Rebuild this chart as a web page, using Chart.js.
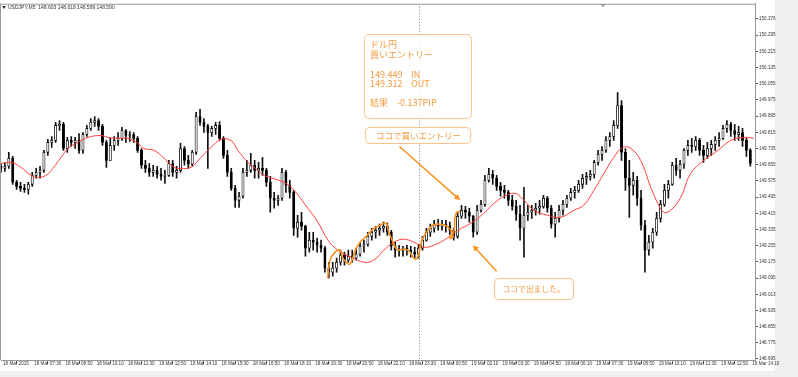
<!DOCTYPE html>
<html><head><meta charset="utf-8">
<script src="https://cdn.jsdelivr.net/npm/chart.js@4.4.1/dist/chart.umd.min.js"></script>
<style>html,body{margin:0;padding:0;background:#f0f0f0;overflow:hidden}#wrap{position:relative;width:798px;height:377px}</style>
</head><body><div id="wrap"><canvas id="c"></canvas></div>
<script>
// ---- data (USDJPY, 10-minute candles) ----
const timeLabels = ["18 Mar 2015","18 Mar 07:30","18 Mar 08:50","18 Mar 10:10","18 Mar 11:30","18 Mar 12:50","18 Mar 14:10","18 Mar 15:30","18 Mar 16:50","18 Mar 18:10","18 Mar 19:30","18 Mar 20:50","18 Mar 22:10","18 Mar 23:30","19 Mar 00:50","19 Mar 02:10","19 Mar 03:30","19 Mar 04:50","19 Mar 06:10","19 Mar 07:30","19 Mar 08:50","19 Mar 10:10","19 Mar 11:30","19 Mar 12:50","19 Mar 14:10"];
const candlesPerLabel = 8;
const separatorIndex = 107; // 19 Mar 00:00
const yTicks = [150.376,150.295,150.215,150.135,150.055,149.975,149.895,149.815,149.735,149.655,149.575,149.495,149.415,149.335,149.255,149.175,149.095,149.013,148.935,148.855,148.775,148.695];

const closes = [149.637,149.647,149.686,149.568,149.548,149.538,149.533,149.558,149.602,149.617,
149.627,149.716,149.765,149.775,149.849,149.854,149.735,149.775,149.765,149.775,
149.726,149.804,149.834,149.864,149.873,149.844,149.765,149.676,149.750,149.775,
149.785,149.824,149.799,149.804,149.785,149.726,149.652,149.637,149.617,149.627,
149.607,149.597,149.602,149.661,149.617,149.627,149.735,149.676,149.657,149.716,
149.893,149.864,149.844,149.814,149.834,149.849,149.785,149.701,149.617,149.538,
149.479,149.499,149.617,149.627,149.652,149.627,149.637,149.627,149.568,149.489,
149.479,149.489,149.617,149.553,149.518,149.341,149.371,149.351,149.242,149.282,
149.272,149.257,149.242,149.144,149.124,149.144,149.173,149.208,149.183,149.203,
149.193,149.213,149.252,149.262,149.301,149.321,149.331,149.341,149.351,149.321,
149.252,149.233,149.233,149.242,149.233,149.223,149.213,149.242,149.282,149.321,
149.341,149.361,149.351,149.361,149.351,149.331,149.301,149.400,149.430,149.420,
149.400,149.321,149.430,149.459,149.578,149.607,149.588,149.548,149.528,149.518,
149.479,149.449,149.410,149.341,149.405,149.420,149.430,149.440,149.449,149.489,
149.440,149.361,149.390,149.430,149.459,149.489,149.518,149.528,149.558,149.588,
149.597,149.607,149.666,149.706,149.726,149.775,149.794,149.849,149.947,149.716,
149.588,149.553,149.578,149.489,149.356,149.233,149.272,149.321,149.390,149.459,
149.528,149.558,149.652,149.627,149.657,149.726,149.750,149.745,149.775,149.726,
149.701,149.735,149.755,149.775,149.785,149.834,149.854,149.824,149.804,149.814,
149.775,149.726,149.661];
const opens = [149.647,149.637,149.647,149.686,149.568,149.548,149.538,149.533,149.558,149.602,
149.617,149.627,149.716,149.765,149.775,149.849,149.854,149.735,149.775,149.765,
149.775,149.726,149.804,149.834,149.864,149.873,149.844,149.765,149.676,149.750,
149.775,149.785,149.824,149.799,149.804,149.785,149.726,149.652,149.637,149.617,
149.627,149.607,149.597,149.602,149.661,149.617,149.627,149.735,149.676,149.657,
149.716,149.893,149.864,149.844,149.814,149.834,149.849,149.785,149.701,149.617,
149.538,149.479,149.499,149.617,149.627,149.652,149.627,149.637,149.627,149.568,
149.489,149.479,149.489,149.617,149.553,149.518,149.341,149.371,149.351,149.242,
149.282,149.272,149.257,149.242,149.144,149.124,149.144,149.173,149.208,149.183,
149.203,149.193,149.213,149.252,149.262,149.301,149.321,149.331,149.341,149.351,
149.321,149.252,149.233,149.233,149.242,149.233,149.223,149.213,149.242,149.282,
149.321,149.341,149.361,149.351,149.361,149.351,149.331,149.301,149.400,149.430,
149.420,149.400,149.321,149.430,149.459,149.578,149.607,149.588,149.548,149.528,
149.518,149.479,149.449,149.410,149.341,149.405,149.420,149.430,149.440,149.449,
149.489,149.440,149.361,149.390,149.430,149.459,149.489,149.518,149.528,149.558,
149.588,149.597,149.607,149.666,149.706,149.726,149.775,149.794,149.849,149.947,
149.716,149.588,149.553,149.578,149.489,149.356,149.233,149.272,149.321,149.390,
149.459,149.528,149.558,149.652,149.627,149.657,149.726,149.750,149.745,149.775,
149.726,149.701,149.735,149.755,149.775,149.785,149.834,149.854,149.824,149.804,
149.814,149.775,149.726];
const highs = [149.661,149.666,149.716,149.696,149.578,149.568,149.558,149.568,149.617,149.637,
149.647,149.726,149.780,149.794,149.864,149.873,149.864,149.790,149.794,149.790,
149.809,149.814,149.849,149.883,149.893,149.883,149.854,149.775,149.785,149.794,
149.814,149.839,149.829,149.819,149.814,149.794,149.735,149.676,149.661,149.652,
149.647,149.637,149.627,149.676,149.676,149.647,149.760,149.745,149.701,149.726,
149.913,149.928,149.883,149.854,149.844,149.864,149.868,149.794,149.726,149.637,
149.553,149.518,149.637,149.676,149.711,149.676,149.666,149.691,149.637,149.597,
149.518,149.504,149.637,149.627,149.578,149.528,149.405,149.420,149.356,149.321,
149.321,149.292,149.282,149.252,149.173,149.173,149.193,149.233,149.223,149.233,
149.233,149.242,149.272,149.282,149.321,149.341,149.351,149.361,149.371,149.366,
149.331,149.272,149.257,149.252,149.257,149.252,149.247,149.262,149.301,149.341,
149.361,149.380,149.385,149.380,149.380,149.371,149.341,149.420,149.454,149.449,
149.440,149.405,149.454,149.479,149.602,149.637,149.627,149.602,149.568,149.553,
149.528,149.504,149.479,149.454,149.543,149.454,149.454,149.464,149.479,149.504,
149.499,149.454,149.420,149.454,149.479,149.504,149.538,149.548,149.578,149.607,
149.617,149.627,149.676,149.726,149.745,149.794,149.814,149.873,150.011,149.972,
149.735,149.676,149.617,149.597,149.528,149.380,149.306,149.341,149.420,149.479,
149.558,149.578,149.666,149.686,149.676,149.735,149.775,149.785,149.794,149.785,
149.750,149.765,149.775,149.794,149.814,149.849,149.873,149.864,149.854,149.844,
149.834,149.785,149.735];
const lows = [149.617,149.622,149.637,149.558,149.533,149.523,149.518,149.509,149.548,149.588,
149.588,149.617,149.701,149.740,149.765,149.824,149.726,149.716,149.745,149.735,
149.711,149.711,149.794,149.824,149.844,149.824,149.750,149.642,149.676,149.726,
149.750,149.775,149.765,149.770,149.765,149.716,149.637,149.617,149.597,149.597,
149.588,149.578,149.563,149.597,149.597,149.588,149.617,149.652,149.637,149.647,
149.706,149.849,149.814,149.637,149.794,149.804,149.775,149.686,149.597,149.528,
149.444,149.444,149.489,149.597,149.617,149.588,149.588,149.602,149.548,149.420,
149.440,149.454,149.479,149.518,149.489,149.306,149.297,149.331,149.203,149.223,
149.233,149.223,149.223,149.124,149.095,149.104,149.124,149.159,149.159,149.173,
149.173,149.183,149.203,149.223,149.252,149.282,149.292,149.306,149.321,149.306,
149.233,149.198,149.203,149.203,149.208,149.198,149.193,149.193,149.233,149.277,
149.301,149.321,149.331,149.331,149.321,149.311,149.282,149.292,149.390,149.390,
149.371,149.297,149.311,149.420,149.449,149.568,149.558,149.528,149.499,149.489,
149.454,149.430,149.380,149.282,149.198,149.380,149.390,149.405,149.410,149.440,
149.420,149.341,149.297,149.371,149.405,149.444,149.479,149.489,149.518,149.538,
149.558,149.578,149.588,149.652,149.676,149.716,149.745,149.775,149.834,149.676,
149.528,149.395,149.504,149.454,149.331,149.124,149.208,149.242,149.306,149.371,
149.449,149.489,149.553,149.602,149.588,149.637,149.701,149.716,149.726,149.701,
149.666,149.686,149.701,149.726,149.745,149.780,149.814,149.794,149.775,149.775,
149.745,149.696,149.647];

// moving average (red line), sampled along the curve
const maIdx = [0,2.6,5.1,7.7,9.5,11.5,13.3,15.4,17.2,19.7,22.3,25.6,27.4,30.0,32.5,35.1,36.6,39.2,41.8,44.3,46.1,48.7,51.2,53.8,56.4,58.9,60.7,63.3,65.8,67.4,72.5,75.1,78.6,81.2,83.8,86.3,89.7,93.0,95.5,98.1,100.7,103.2,105.8,108.4,110.9,113.5,117.1,120.4,123.7,127.3,131.4,134.0,136.5,140.1,143.4,146.8,149.3,151.9,154.5,157.0,159.3,161.4,163.9,166.5,168.3,169.8,171.6,174.2,176.7,180.1,183.7,187.0,190.3,192.9];
const maVal = [149.661,149.666,149.642,149.602,149.592,149.602,149.637,149.691,149.735,149.765,149.790,149.799,149.790,149.785,149.785,149.760,149.735,149.726,149.686,149.642,149.637,149.642,149.691,149.740,149.780,149.775,149.726,149.666,149.627,149.602,149.568,149.528,149.440,149.371,149.282,149.233,149.198,149.173,149.183,149.233,149.272,149.287,149.272,149.247,149.257,149.282,149.331,149.366,149.415,149.479,149.514,149.479,149.430,149.405,149.395,149.430,149.454,149.528,149.612,149.691,149.740,149.735,149.676,149.543,149.464,149.420,149.430,149.494,149.612,149.676,149.726,149.775,149.790,149.785];

// orange hand-drawn trace
const drawIdx = [83.7,84.3,85.6,86.9,87.6,88.7,89.4,90.2,91.0,92.0,93.8,95.3,97.1,98.7,99.2,100.2,101.0,101.7,103.0,104.3,105.3,106.1,106.9,107.4,108.1,109.4,110.7,112.5,114.3,115.6,115.8,115.0,116.1,116.3,116.8,117.6];
const drawVal = [149.095,149.183,149.223,149.233,149.193,149.168,149.163,149.198,149.242,149.272,149.306,149.336,149.356,149.366,149.331,149.282,149.247,149.233,149.237,149.233,149.208,149.188,149.203,149.247,149.292,149.331,149.356,149.361,149.351,149.321,149.297,149.292,149.331,149.395,149.420,149.425];

// arrows (from -> to) in data coordinates [index, price]
const arrowFrom = [[102.1, 149.745], [127.0, 149.129]];
const arrowTo   = [[117.7, 149.479], [120.9, 149.257]];

const headerText = "USDJPY,M5  148.603 148.618 148.589 148.590";

// ---- build ----
const idx = closes.map((_, i) => i);
const wickData = idx.map(i => ({x: i, y: [lows[i], highs[i]]}));
const bodyData = idx.map(i => ({x: i, y: [opens[i], closes[i]]}));
const bodyFill = idx.map(i => closes[i] >= opens[i] ? '#ffffff' : '#000000');

const ORANGE_TXT = '#f39a3c';
const ORANGE_LINE = '#f7931e';
const BOX_BORDER = '#f8c48c';
const JP = '"Noto Sans CJK JP", "Noto Sans", sans-serif';

function rr(ctx, x, y, w, h, r) {
  ctx.beginPath();
  ctx.moveTo(x + r, y); ctx.lineTo(x + w - r, y); ctx.quadraticCurveTo(x + w, y, x + w, y + r);
  ctx.lineTo(x + w, y + h - r); ctx.quadraticCurveTo(x + w, y + h, x + w - r, y + h);
  ctx.lineTo(x + r, y + h); ctx.quadraticCurveTo(x, y + h, x, y + h - r);
  ctx.lineTo(x, y + r); ctx.quadraticCurveTo(x, y, x + r, y); ctx.closePath();
}

const decor = {
  id: 'decor',
  beforeDraw(chart) {
    const c = chart.ctx;
    c.save();
    c.fillStyle = '#f0f0f0'; c.fillRect(0, 0, chart.width, chart.height);
    c.fillStyle = '#ffffff'; c.fillRect(0, 0, 775, 371);
    c.restore();
  },
  beforeDatasetsDraw(chart) {
    const {ctx, chartArea: a, scales: {x}} = chart;
    const sx = Math.round(x.getPixelForValue(separatorIndex)) + 0.5;
    ctx.save();
    ctx.strokeStyle = '#808080'; ctx.lineWidth = 1; ctx.setLineDash([1, 2]);
    ctx.beginPath(); ctx.moveTo(sx, a.top); ctx.lineTo(sx, a.bottom); ctx.stroke();
    ctx.restore();
  },
  afterDraw(chart) {
    const {ctx, chartArea: a, scales: {x, y}} = chart;
    ctx.save();
    // frame
    ctx.strokeStyle = '#9a9a9a'; ctx.lineWidth = 1;
    ctx.beginPath(); ctx.moveTo(0, a.top + 0.5); ctx.lineTo(a.right, a.top + 0.5);
    ctx.moveTo(0.5, a.top); ctx.lineTo(0.5, a.bottom); ctx.stroke();
    // header
    ctx.fillStyle = '#333';
    ctx.beginPath(); ctx.moveTo(2, 6); ctx.lineTo(6, 6); ctx.lineTo(4, 9); ctx.closePath(); ctx.fill();
    ctx.font = '5px "Liberation Sans", sans-serif'; ctx.textBaseline = 'middle'; ctx.textAlign = 'left';
    ctx.fillText(headerText, 8, 7.5);
    // shift marker
    ctx.fillStyle = '#999';
    ctx.beginPath(); ctx.moveTo(600, 4); ctx.lineTo(606, 4); ctx.lineTo(603, 7); ctx.closePath(); ctx.fill();

    // boxes
    ctx.strokeStyle = BOX_BORDER; ctx.lineWidth = 1;
    ctx.fillStyle = 'rgba(255,255,255,0.85)';
    rr(ctx, 364.5, 34.5, 107, 84, 5); ctx.fill(); ctx.stroke();
    rr(ctx, 365.5, 127.5, 105, 16, 4); ctx.fill(); ctx.stroke();
    rr(ctx, 494.5, 278.5, 79, 21, 4); ctx.fill(); ctx.stroke();

    ctx.fillStyle = ORANGE_TXT; ctx.textBaseline = 'middle'; ctx.textAlign = 'left';
    ctx.font = '9px ' + JP;
    ctx.fillText('ドル円', 370, 45);
    ctx.fillText('買いエントリー', 370, 54.5);
    ctx.fillText('149.449', 370, 74.5); ctx.fillText('IN', 411, 74.5);
    ctx.fillText('149.312', 370, 84); ctx.fillText('OUT', 411, 84);
    ctx.fillText('結果', 370, 102.5); ctx.fillText('-0.137PIP', 397, 102.5);
    ctx.font = '8.5px ' + JP;
    ctx.fillText('ココで買いエントリー', 376, 135.5);
    ctx.font = '7.8px ' + JP;
    ctx.fillText('ココで出ました。', 502.5, 289);

    // arrows
    ctx.strokeStyle = ORANGE_LINE; ctx.fillStyle = ORANGE_LINE; ctx.lineWidth = 1.5;
    for (let k = 0; k < arrowFrom.length; k++) {
      const x0 = x.getPixelForValue(arrowFrom[k][0]), y0 = y.getPixelForValue(arrowFrom[k][1]);
      const x1 = x.getPixelForValue(arrowTo[k][0]), y1 = y.getPixelForValue(arrowTo[k][1]);
      const ang = Math.atan2(y1 - y0, x1 - x0);
      const hl = 6, hw = 3;
      const bx = x1 - hl * Math.cos(ang), by = y1 - hl * Math.sin(ang);
      ctx.beginPath(); ctx.moveTo(x0, y0); ctx.lineTo(bx, by); ctx.stroke();
      ctx.beginPath(); ctx.moveTo(x1, y1);
      ctx.lineTo(bx + hw * Math.sin(ang), by - hw * Math.cos(ang));
      ctx.lineTo(bx - hw * Math.sin(ang), by + hw * Math.cos(ang));
      ctx.closePath(); ctx.fill();
    }
    ctx.restore();
  }
};

const axisFont = {size: 4.6, family: '"Liberation Sans", sans-serif'};

new Chart(document.getElementById('c'), {
  type: 'bar',
  data: {
    datasets: [
      {type: 'bar', data: wickData, backgroundColor: '#111', borderWidth: 0, barThickness: 1, grouped: false, order: 4},
      {type: 'bar', data: bodyData, backgroundColor: bodyFill, borderColor: '#000', borderWidth: 0.8, borderSkipped: false, barThickness: 2.3, minBarLength: 1, grouped: false, order: 3},
      {type: 'line', data: maIdx.map((v, k) => ({x: v, y: maVal[k]})), borderColor: '#ff4040', borderWidth: 1, pointRadius: 0, tension: 0.4, order: 2},
      {type: 'line', data: drawIdx.map((v, k) => ({x: v, y: drawVal[k]})), borderColor: ORANGE_LINE, borderWidth: 1.6, pointRadius: 0, tension: 0.4, order: 1}
    ]
  },
  options: {
    responsive: true, maintainAspectRatio: false, animation: false, events: [],
    layout: {padding: {top: 3, left: 1, right: 0, bottom: 0}},
    plugins: {legend: {display: false}, tooltip: {enabled: false}},
    scales: {
      x: {
        type: 'linear', min: 0, max: 193.2, offset: false,
        afterBuildTicks: s => { s.ticks = timeLabels.map((_, k) => ({value: k * candlesPerLabel})); },
        afterFit: s => { s.height = 17; },
        ticks: {autoSkip: false, maxRotation: 0, minRotation: 0, align: 'start', labelOffset: 2, padding: -3,
          font: axisFont, color: '#333', callback: v => timeLabels[Math.round(v / candlesPerLabel)]},
        grid: {display: true, drawOnChartArea: false, drawTicks: true, tickLength: 4, tickColor: '#555'},
        border: {display: true, color: '#999'}
      },
      y: {
        position: 'right', min: 148.690, max: 150.450,
        afterBuildTicks: s => { s.ticks = yTicks.map(v => ({value: v})); },
        afterFit: s => { s.width = 43; },
        ticks: {autoSkip: false, padding: 1, font: axisFont, color: '#333', callback: v => Number(v).toFixed(3)},
        grid: {display: true, drawOnChartArea: false, drawTicks: true, tickLength: 3, tickColor: '#555'},
        border: {display: true, color: '#999'}
      }
    }
  },
  plugins: [decor]
});
</script></body></html>
